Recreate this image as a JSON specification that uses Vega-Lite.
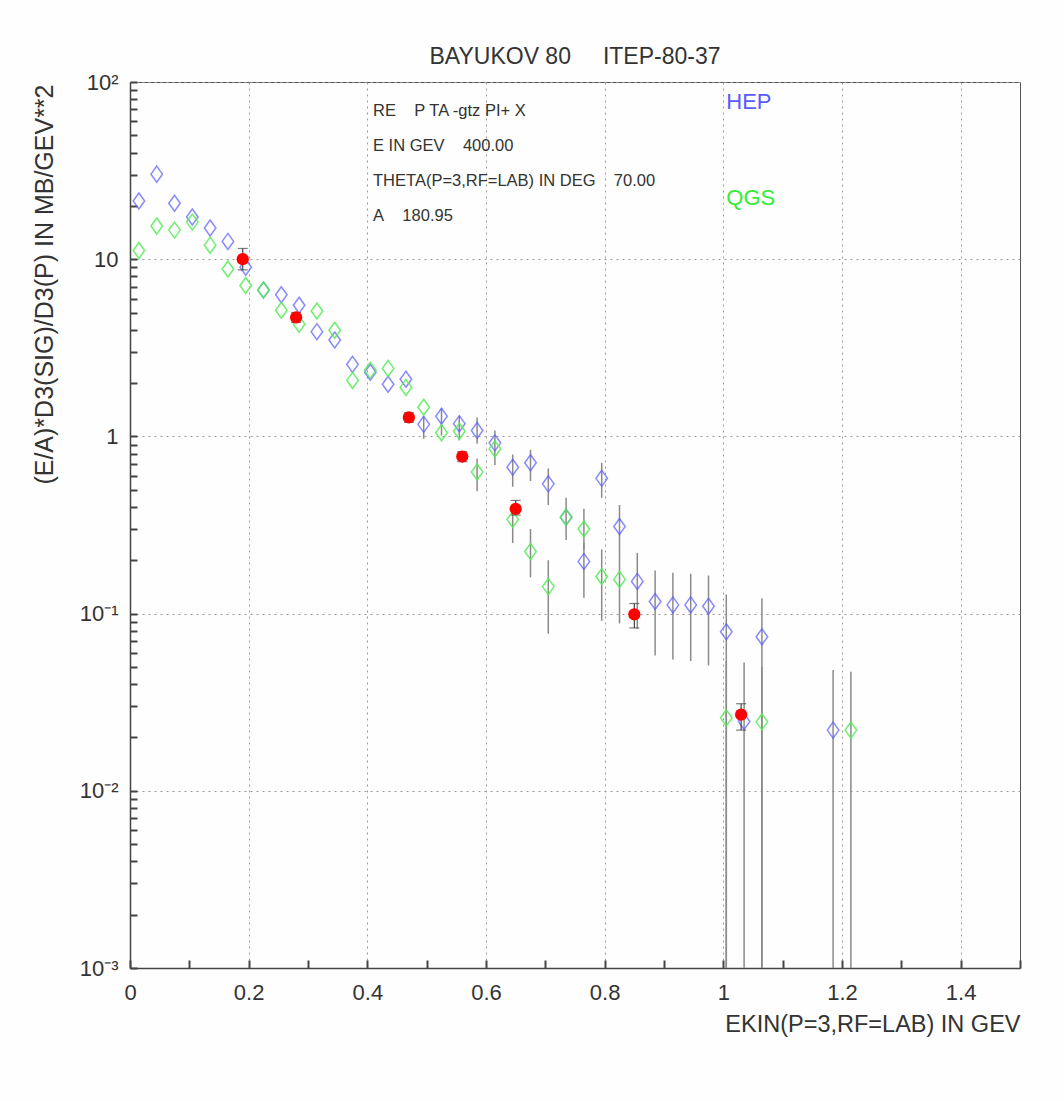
{
  "$schema": "https://vega.github.io/schema/vega-lite/v6.json",
  "width": 890,
  "height": 886,
  "autosize": {"type": "none"},
  "padding": {"left": 130, "top": 82, "right": 44, "bottom": 133},
  "background": "#fdfefd",
  "config": {
    "view": {"stroke": "#555555", "strokeWidth": 1},
    "font": "Liberation Sans, Arial, sans-serif"
  },
  "title": {
    "text": "BAYUKOV 80\u00a0\u00a0\u00a0\u00a0\u00a0ITEP-80-37",
    "fontSize": 23,
    "fontWeight": "normal",
    "color": "#333333",
    "anchor": "middle",
    "offset": 2
  },
  "datasets": {
    "hep": [
      {"x": 0.015, "y": 21.3}, {"x": 0.045, "y": 30.2}, {"x": 0.075, "y": 20.7}, {"x": 0.105, "y": 17.3},
      {"x": 0.135, "y": 15.0}, {"x": 0.165, "y": 12.6}, {"x": 0.195, "y": 9.0}, {"x": 0.225, "y": 6.7},
      {"x": 0.255, "y": 6.3}, {"x": 0.285, "y": 5.5}, {"x": 0.315, "y": 3.9}, {"x": 0.345, "y": 3.5},
      {"x": 0.375, "y": 2.55}, {"x": 0.405, "y": 2.3}, {"x": 0.435, "y": 1.97}, {"x": 0.465, "y": 2.1},
      {"x": 0.495, "y": 1.17}, {"x": 0.525, "y": 1.3}, {"x": 0.555, "y": 1.18}, {"x": 0.585, "y": 1.08},
      {"x": 0.615, "y": 0.92}, {"x": 0.645, "y": 0.67}, {"x": 0.675, "y": 0.71}, {"x": 0.705, "y": 0.54},
      {"x": 0.735, "y": 0.35}, {"x": 0.765, "y": 0.197}, {"x": 0.795, "y": 0.58}, {"x": 0.825, "y": 0.31},
      {"x": 0.855, "y": 0.152}, {"x": 0.885, "y": 0.117}, {"x": 0.915, "y": 0.112}, {"x": 0.945, "y": 0.112},
      {"x": 0.975, "y": 0.11}, {"x": 1.005, "y": 0.079}, {"x": 1.035, "y": 0.0246}, {"x": 1.065, "y": 0.074},
      {"x": 1.185, "y": 0.022}
    ],
    "qgs": [
      {"x": 0.015, "y": 11.2}, {"x": 0.045, "y": 15.4}, {"x": 0.075, "y": 14.6}, {"x": 0.105, "y": 16.2},
      {"x": 0.135, "y": 12.0}, {"x": 0.165, "y": 8.8}, {"x": 0.195, "y": 7.1}, {"x": 0.225, "y": 6.7},
      {"x": 0.255, "y": 5.15}, {"x": 0.285, "y": 4.3}, {"x": 0.315, "y": 5.1}, {"x": 0.345, "y": 3.97},
      {"x": 0.375, "y": 2.07}, {"x": 0.405, "y": 2.36}, {"x": 0.435, "y": 2.42}, {"x": 0.465, "y": 1.89},
      {"x": 0.495, "y": 1.46}, {"x": 0.525, "y": 1.05}, {"x": 0.555, "y": 1.07}, {"x": 0.585, "y": 0.63},
      {"x": 0.615, "y": 0.85}, {"x": 0.645, "y": 0.34}, {"x": 0.675, "y": 0.224}, {"x": 0.705, "y": 0.142},
      {"x": 0.735, "y": 0.35}, {"x": 0.765, "y": 0.3}, {"x": 0.795, "y": 0.162}, {"x": 0.825, "y": 0.156},
      {"x": 1.005, "y": 0.0258}, {"x": 1.065, "y": 0.0245}, {"x": 1.215, "y": 0.022}
    ],
    "err": [
      {"x": 0.495, "lo": 0.97, "hi": 1.3}, {"x": 0.525, "lo": 1.01, "hi": 1.44}, {"x": 0.555, "lo": 0.95, "hi": 1.31},
      {"x": 0.585, "lo": 0.91, "hi": 1.28}, {"x": 0.615, "lo": 0.69, "hi": 1.08}, {"x": 0.645, "lo": 0.52, "hi": 0.79},
      {"x": 0.675, "lo": 0.56, "hi": 0.84}, {"x": 0.705, "lo": 0.41, "hi": 0.66}, {"x": 0.735, "lo": 0.26, "hi": 0.45},
      {"x": 0.765, "lo": 0.123, "hi": 0.25}, {"x": 0.795, "lo": 0.45, "hi": 0.71}, {"x": 0.825, "lo": 0.22, "hi": 0.41},
      {"x": 0.855, "lo": 0.082, "hi": 0.22}, {"x": 0.885, "lo": 0.058, "hi": 0.175}, {"x": 0.915, "lo": 0.055, "hi": 0.17},
      {"x": 0.945, "lo": 0.054, "hi": 0.168}, {"x": 0.975, "lo": 0.051, "hi": 0.164}, {"x": 1.005, "lo": 0.001, "hi": 0.128},
      {"x": 1.035, "lo": 0.001, "hi": 0.053}, {"x": 1.065, "lo": 0.001, "hi": 0.122}, {"x": 1.185, "lo": 0.001, "hi": 0.048},
      {"x": 0.585, "lo": 0.49, "hi": 0.75}, {"x": 0.645, "lo": 0.25, "hi": 0.39}, {"x": 0.675, "lo": 0.16, "hi": 0.3},
      {"x": 0.705, "lo": 0.077, "hi": 0.2}, {"x": 0.765, "lo": 0.23, "hi": 0.39}, {"x": 0.795, "lo": 0.091, "hi": 0.23},
      {"x": 0.825, "lo": 0.088, "hi": 0.22}, {"x": 1.005, "lo": 0.001, "hi": 0.054}, {"x": 1.065, "lo": 0.001, "hi": 0.05},
      {"x": 1.215, "lo": 0.001, "hi": 0.047}
    ],
    "exp": [
      {"x": 0.19, "y": 10.0, "lo": 8.7, "hi": 11.5},
      {"x": 0.28, "y": 4.7, "lo": 4.4, "hi": 5.0},
      {"x": 0.47, "y": 1.28, "lo": 1.2, "hi": 1.36},
      {"x": 0.56, "y": 0.77, "lo": 0.72, "hi": 0.82},
      {"x": 0.65, "y": 0.39, "lo": 0.36, "hi": 0.435},
      {"x": 0.85, "y": 0.099, "lo": 0.083, "hi": 0.114},
      {"x": 1.03, "y": 0.0269, "lo": 0.022, "hi": 0.031}
    ],
    "notes": [
      {"x": 0.4096, "y": 68.6, "text": "RE\u00a0\u00a0\u00a0\u00a0P TA -gtz PI+ X"},
      {"x": 0.4096, "y": 43.5, "text": "E IN GEV\u00a0\u00a0\u00a0\u00a0400.00"},
      {"x": 0.4096, "y": 27.6, "text": "THETA(P=3,RF=LAB) IN DEG\u00a0\u00a0\u00a0\u00a070.00"},
      {"x": 0.4096, "y": 17.5, "text": "A\u00a0\u00a0\u00a0\u00a0180.95"}
    ],
    "legend": [
      {"x": 1.005, "y": 77, "text": "HEP", "c": "HEP"},
      {"x": 1.005, "y": 22.2, "text": "QGS", "c": "QGS"}
    ]
  },
  "layer": [
    {
      "data": {"name": "err"},
      "mark": {"type": "rule", "color": "#8a8a8a", "strokeWidth": 1.5},
      "encoding": {
        "x": {
          "field": "x", "type": "quantitative",
          "scale": {"domain": [0, 1.5], "nice": false, "zero": false},
          "axis": {
            "title": "EKIN(P=3,RF=LAB) IN GEV",
            "titleFontSize": 23.5, "titleFontWeight": "normal", "titleColor": "#333333",
            "titleAnchor": "end", "titleAlign": "right", "titleBaseline": "middle",
            "titleX": 890, "titleY": 56,
            "values": [0, 0.05, 0.1, 0.15, 0.2, 0.25, 0.3, 0.35, 0.4, 0.45, 0.5, 0.55, 0.6, 0.65, 0.7, 0.75, 0.8, 0.85, 0.9, 0.95, 1.0, 1.05, 1.1, 1.15, 1.2, 1.25, 1.3, 1.35, 1.4, 1.45, 1.5],
            "labelExpr": "abs(datum.value*5 - round(datum.value*5)) < 0.001 ? (datum.value == 0 ? '0' : datum.value == 1 ? '1' : format(datum.value, '.1f')) : ''",
            "labelFontSize": 22, "labelColor": "#333333", "labelFlush": false, "labelOverlap": false,
            "labelPadding": 22,
            "ticks": true, "tickSize": -8, "tickColor": "#444444", "tickWidth": 2, "tickOpacity": 1,
            "domainColor": "#444444", "domainWidth": 1.5,
            "grid": true, "gridColor": "#999999", "gridDash": [2, 4],
            "gridOpacity": {"condition": {"test": "abs(datum.value*5 - round(datum.value*5)) < 0.001", "value": 1}, "value": 0}
          }
        },
        "y": {
          "field": "lo", "type": "quantitative",
          "scale": {"type": "log", "domain": [0.001, 100], "nice": false},
          "axis": {
            "title": "(E/A)*D3(SIG)/D3(P) IN MB/GEV**2",
            "titleFontSize": 25, "titleFontWeight": "normal", "titleColor": "#333333",
            "titleAnchor": "end", "titleAlign": "right", "titleBaseline": "middle", "titleAngle": -90,
            "titleX": -86, "titleY": 2,
            "values": [0.001, 0.002, 0.003, 0.004, 0.005, 0.006, 0.007, 0.008, 0.009, 0.01, 0.02, 0.03, 0.04, 0.05, 0.06, 0.07, 0.08, 0.09, 0.1, 0.2, 0.3, 0.4, 0.5, 0.6, 0.7, 0.8, 0.9, 1, 2, 3, 4, 5, 6, 7, 8, 9, 10, 20, 30, 40, 50, 60, 70, 80, 90, 100],
            "labelExpr": "datum.value == 100 ? '10²' : datum.value == 10 ? '10\u00a0\u00a0\u00a0\u00a0' : datum.value == 1 ? '1\u00a0\u00a0\u00a0\u00a0' : datum.value == 0.1 ? '10⁻¹' : datum.value == 0.01 ? '10⁻²' : datum.value == 0.001 ? '10⁻³' : ''",
            "labelFontSize": 22, "labelColor": "#333333", "labelOverlap": false, "labelFlush": false,
            "labelPadding": 19,
            "ticks": true, "tickColor": "#444444", "tickWidth": 2, "tickOpacity": 1,
            "tickSize": -7,
            "domainColor": "#444444", "domainWidth": 1.5,
            "grid": true, "gridColor": "#999999", "gridDash": [2, 4],
            "gridOpacity": {"condition": {"test": "abs(log(datum.value)/LN10 - round(log(datum.value)/LN10)) < 0.001", "value": 1}, "value": 0}
          }
        },
        "y2": {"field": "hi"}
      }
    },
    {
      "data": {"name": "hep"},
      "mark": {"type": "point", "shape": "M0,-1L0.72,0L0,1L-0.72,0Z", "size": 256, "filled": false, "stroke": "#5a5aff", "strokeWidth": 1.5},
      "encoding": {
        "x": {"field": "x", "type": "quantitative"},
        "y": {"field": "y", "type": "quantitative"}
      }
    },
    {
      "data": {"name": "qgs"},
      "mark": {"type": "point", "shape": "M0,-1L0.72,0L0,1L-0.72,0Z", "size": 256, "filled": false, "stroke": "#55ee55", "strokeWidth": 1.5, "opacity": 0.85},
      "encoding": {
        "x": {"field": "x", "type": "quantitative"},
        "y": {"field": "y", "type": "quantitative"}
      }
    },
    {
      "data": {"name": "exp"},
      "mark": {"type": "rule", "color": "#444444", "strokeWidth": 1.2},
      "encoding": {
        "x": {"field": "x", "type": "quantitative"},
        "y": {"field": "lo", "type": "quantitative"},
        "y2": {"field": "hi"}
      }
    },
    {
      "data": {"name": "exp"},
      "mark": {"type": "tick", "orient": "horizontal", "color": "#444444", "size": 10, "thickness": 1.2},
      "encoding": {
        "x": {"field": "x", "type": "quantitative"},
        "y": {"field": "hi", "type": "quantitative"}
      }
    },
    {
      "data": {"name": "exp"},
      "mark": {"type": "tick", "orient": "horizontal", "color": "#444444", "size": 10, "thickness": 1.2},
      "encoding": {
        "x": {"field": "x", "type": "quantitative"},
        "y": {"field": "lo", "type": "quantitative"}
      }
    },
    {
      "data": {"name": "exp"},
      "mark": {"type": "circle", "size": 150, "color": "#ff0000", "opacity": 1},
      "encoding": {
        "x": {"field": "x", "type": "quantitative"},
        "y": {"field": "y", "type": "quantitative"}
      }
    },
    {
      "data": {"name": "notes"},
      "mark": {"type": "text", "align": "left", "baseline": "middle", "fontSize": 16.5, "color": "#333333"},
      "encoding": {
        "x": {"field": "x", "type": "quantitative"},
        "y": {"field": "y", "type": "quantitative"},
        "text": {"field": "text"}
      }
    },
    {
      "data": {"name": "legend"},
      "mark": {"type": "text", "align": "left", "baseline": "middle", "fontSize": 22},
      "encoding": {
        "x": {"field": "x", "type": "quantitative"},
        "y": {"field": "y", "type": "quantitative"},
        "text": {"field": "text"},
        "color": {"field": "c", "type": "nominal", "scale": {"domain": ["HEP", "QGS"], "range": ["#5a5aff", "#33ee33"]}, "legend": null}
      }
    }
  ]
}
